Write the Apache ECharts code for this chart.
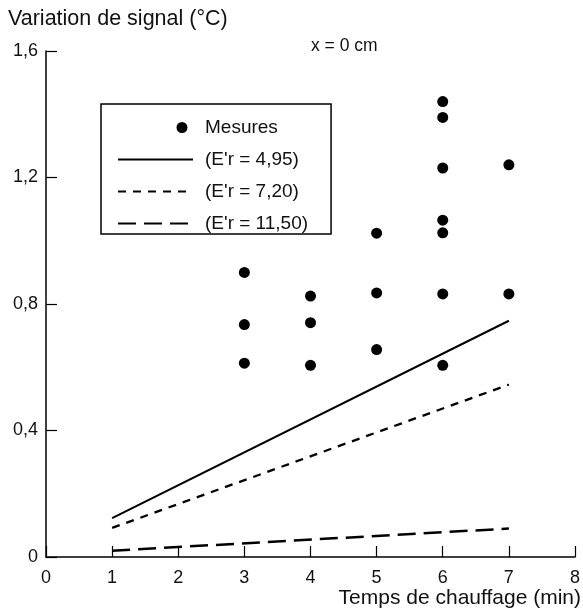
<!DOCTYPE html>
<html>
<head>
<meta charset="utf-8">
<script src="https://cdn.jsdelivr.net/npm/echarts@6/dist/echarts.min.js"></script>
<style>
  html, body { margin: 0; padding: 0; background: #fff; }
  #chart { width: 583px; height: 613px; }
</style>
</head>
<body>
<div id="chart"></div>
<script>
// mesures (temps en min, variation en °C)
const mesuresX = [3, 3, 3, 4, 4, 4, 5, 5, 5, 6, 6, 6, 6, 6, 6, 6, 7, 7];
const mesuresY = [0.90, 0.735, 0.613, 0.825, 0.741, 0.606, 1.024, 0.835, 0.656,
                  1.44, 1.39, 1.23, 1.065, 1.025, 0.832, 0.606, 1.24, 0.832];

// droites calculees
const tempsLigne = [1, 7];
const er495 = [0.123, 0.747];
const er720 = [0.092, 0.545];
const er1150 = [0.02, 0.09];

const noms = ['Mesures', "(E'r = 4,95)", "(E'r = 7,20)", "(E'r = 11,50)"];

const xTicks = { min: 0, max: 8, step: 1 };
const yTicks = { min: 0, max: 1.6, step: 0.4 };

const font = 'Liberation Sans, Arial, Helvetica, sans-serif';

function paires(xs, ys) {
  return xs.map((x, i) => [x, ys[i]]);
}

// pas de point dans l'icone de legende des droites
const sansPoint = { color: 'rgba(0,0,0,0)', borderWidth: 0, opacity: 0 };

const chart = echarts.init(document.getElementById('chart'));

const option = {
  animation: false,
  backgroundColor: '#fff',
  textStyle: { fontFamily: font, color: '#111' },
  title: [
    {
      text: 'Variation de signal (°C)',
      left: 8, top: 8, padding: 0,
      textStyle: { fontSize: 21.5, fontWeight: 'normal', color: '#111', fontFamily: font }
    },
    {
      text: 'x = 0 cm',
      left: 311, top: 37, padding: 0,
      textStyle: { fontSize: 17.5, fontWeight: 'normal', color: '#111', fontFamily: font }
    },
    {
      text: 'Temps de chauffage (min)',
      right: 2, top: 588, padding: 0,
      textStyle: { fontSize: 21, fontWeight: 'normal', color: '#111', fontFamily: font }
    }
  ],
  legend: {
    orient: 'vertical',
    left: 101,
    top: 104,
    padding: [14, 23, 1, 16],
    borderColor: '#000',
    borderWidth: 1.5,
    itemWidth: 75,
    itemHeight: 14,
    itemGap: 13,
    selectedMode: false,
    textStyle: { fontSize: 19, lineHeight: 18, color: '#111', fontFamily: font, padding: [0, 0, 0, 7] },
    data: [
      { name: noms[0], icon: 'path://M0,0h0.01v0.01h-0.01z M75,14h-0.01v-0.01h0.01z M64,1.5 a5.5,5.5 0 1,0 0.01,0 z' },
      { name: noms[1], itemStyle: sansPoint },
      { name: noms[2], itemStyle: sansPoint },
      { name: noms[3], itemStyle: sansPoint }
    ]
  },
  grid: { left: 46, right: 6, top: 51, bottom: 56 },
  xAxis: {
    type: 'value',
    min: xTicks.min,
    max: xTicks.max,
    interval: xTicks.step,
    axisLine: { show: true, lineStyle: { color: '#000', width: 1.5 } },
    axisTick: { show: true, inside: true, length: 11, lineStyle: { color: '#000', width: 1.2 } },
    axisLabel: { fontSize: 18, color: '#111', margin: 12, fontFamily: font },
    splitLine: { show: false }
  },
  yAxis: {
    type: 'value',
    min: yTicks.min,
    max: yTicks.max,
    interval: yTicks.step,
    axisLine: { show: true, lineStyle: { color: '#000', width: 1.5 } },
    axisTick: { show: true, inside: true, length: 11, lineStyle: { color: '#000', width: 1.2 } },
    axisLabel: {
      fontSize: 18, color: '#111', margin: 8, fontFamily: font,
      formatter: v => (v === 0 ? '0' : v.toFixed(1).replace('.', ','))
    },
    splitLine: { show: false }
  },
  series: [
    {
      name: noms[0],
      type: 'scatter',
      symbol: 'circle',
      symbolSize: 11,
      itemStyle: { color: '#000', opacity: 1 },
      data: paires(mesuresX, mesuresY)
    },
    {
      name: noms[1],
      type: 'line',
      showSymbol: false,
      symbol: 'none',
      color: '#000',
      lineStyle: { color: '#000', width: 2, type: 'solid' },
      data: paires(tempsLigne, er495)
    },
    {
      name: noms[2],
      type: 'line',
      showSymbol: false,
      symbol: 'none',
      color: '#000',
      lineStyle: { color: '#000', width: 2.3, type: [8, 7] },
      data: paires(tempsLigne, er720)
    },
    {
      name: noms[3],
      type: 'line',
      showSymbol: false,
      symbol: 'none',
      color: '#000',
      lineStyle: { color: '#000', width: 2.5, type: [18, 8] },
      data: paires(tempsLigne, er1150)
    }
  ]
};

chart.setOption(option);
</script>
</body>
</html>
